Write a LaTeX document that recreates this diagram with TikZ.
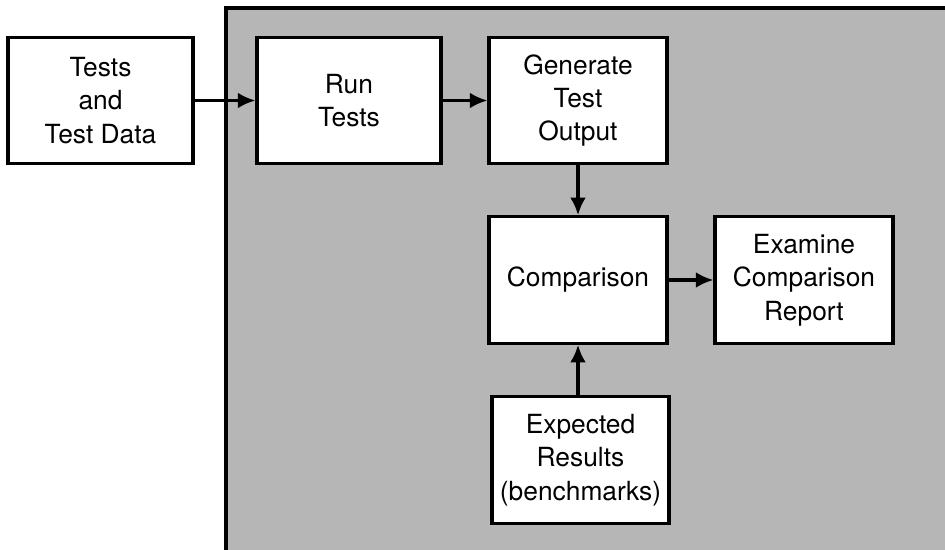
\documentclass[tikz,border=0pt]{standalone}
\usepackage{fontspec}
\setmainfont{TeX Gyre Heros}
\usetikzlibrary{arrows.meta,positioning}
\definecolor{trame}{RGB}{182,182,182}

\begin{document}
\begin{tikzpicture}[x=0.02cm,y=-0.02cm,font=\fontsize{15}{19}\selectfont,
	boite/.style={draw,line width=1.8pt,fill=white,align=center,inner sep=0pt,
		minimum width=3.56cm,minimum height=2.53cm},
	fleche/.style={-{Latex[length=10pt,width=9pt]},line width=1.8pt}]
	\useasboundingbox (0,0) rectangle (945,550);
	% zone grisee
	\fill[trame] (226,8) rectangle (945,550);
	\draw[line width=1.8pt] (226,550) -- (226,8) -- (945,8);
	% boites
	\node[boite,minimum width=3.7cm] (tests) at (100.5,100.5) {Tests\\and\\Test Data};
	\node[boite,minimum width=3.68cm] (run) at (349,100.5) {Run\\Tests};
	\node[boite] (gen) at (578,100.5) {Generate\\Test\\Output};
	\node[boite] (comp) at (578,280) {Comparison};
	\node[boite] (exam) at (804,280) {Examine\\Comparison\\Report};
	\node[boite,minimum width=3.54cm] (bench) at (580.5,460) {Expected\\Results\\(benchmarks)};
	% fleches
	\draw[fleche] (tests) -- (run);
	\draw[fleche] (run) -- (gen);
	\draw[fleche] (gen) -- (comp);
	\draw[fleche] (comp) -- (exam);
	\draw[fleche] (bench.north -| comp) -- (comp);
\end{tikzpicture}
\end{document}
